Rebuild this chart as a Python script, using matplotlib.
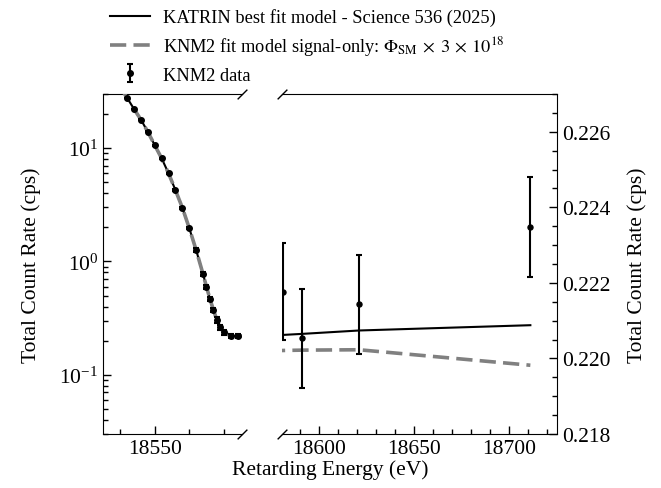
import matplotlib
matplotlib.use("Agg")
import matplotlib.pyplot as plt
from matplotlib.ticker import MultipleLocator, LogLocator, NullFormatter, FormatStrFormatter
from matplotlib.lines import Line2D

plt.rcParams['font.family'] = ['Liberation Serif', 'DejaVu Serif']
plt.rcParams['mathtext.fontset'] = 'stix'

# ---- data ----
energy = [18542, 18544, 18546, 18548, 18550, 18552, 18554, 18556, 18558, 18560,
          18562, 18564, 18565, 18566, 18567, 18568, 18569, 18570, 18572, 18574,
          18581, 18591, 18621, 18711]
rate = [27.7, 22.1, 17.8, 13.9, 10.6, 8.12, 5.99, 4.26, 2.98, 1.97,
        1.26, 0.773, 0.597, 0.468, 0.374, 0.305, 0.262, 0.236, 0.221, 0.221,
        0.22177, 0.22053, 0.22143, 0.22348]
rate_err = [0.20, 0.18, 0.16, 0.14, 0.12, 0.10, 0.09, 0.07, 0.06, 0.05,
            0.04, 0.03, 0.025, 0.02, 0.018, 0.016, 0.014, 0.012, 0.01, 0.01,
            0.00129, 0.00131, 0.00131, 0.00133]

model_energy = [18540, 18542, 18544, 18546, 18548, 18550, 18552, 18554, 18556, 18558,
                18560, 18562, 18564, 18565, 18566, 18567, 18568, 18569, 18570, 18572,
                18574, 18580, 18591, 18621, 18711]
katrin_model = [34.5, 27.7, 22.1, 17.8, 13.9, 10.6, 8.12, 5.99, 4.26, 2.98,
                1.97, 1.26, 0.773, 0.597, 0.468, 0.374, 0.305, 0.262, 0.236, 0.2208,
                0.2206, 0.22062, 0.22065, 0.22074, 0.22088]
signal_model = [34.5, 27.7, 22.1, 17.8, 13.9, 10.6, 8.12, 5.99, 4.26, 2.98,
                1.97, 1.26, 0.773, 0.597, 0.468, 0.374, 0.305, 0.262, 0.236, 0.2204,
                0.2202, 0.22021, 0.22022, 0.22023, 0.21982]

left_xlim = (18535, 18575.3)
right_xlim = (18580.5, 18725)
left_ylim = (0.03, 30)
right_ylim = (0.218, 0.227)

fig = plt.figure(figsize=(6.61, 4.89), dpi=100)
axL = fig.add_axes([103/661, 1-435/489, (242-103)/661, 340/489])
axR = fig.add_axes([282/661, 1-435/489, (557-282)/661, 340/489])

fs = 15.5
for ax, linear in ((axL, False), (axR, True)):
    ax.plot(model_energy, katrin_model, color='black', lw=1.5, zorder=2)
    ax.plot(model_energy, signal_model, color='gray', lw=2.6, ls=(0, (4.5, 2)), zorder=3)
    ax.errorbar(energy, rate, yerr=rate_err, fmt='o', color='black', ms=4 if not linear else 3.6,
                elinewidth=1.5, capsize=2.5, capthick=1.5, zorder=4)
    ax.tick_params(which='both', direction='in', labelsize=fs, top=False)
    ax.tick_params(which='major', length=6, width=1)
    ax.tick_params(which='minor', length=3.5, width=1)

axL.set_yscale('log')
axL.set_xlim(*left_xlim)
axL.set_ylim(*left_ylim)
axL.xaxis.set_major_locator(MultipleLocator(50))
axL.xaxis.set_minor_locator(MultipleLocator(10))
axL.yaxis.set_major_locator(LogLocator(base=10, numticks=10))
axL.yaxis.set_minor_locator(LogLocator(base=10, subs=range(2, 10), numticks=20))
axL.yaxis.set_minor_formatter(NullFormatter())
axL.spines['right'].set_visible(False)
axL.tick_params(right=False)
axL.set_ylabel('Total Count Rate (cps)', fontsize=fs, labelpad=13)

axR.set_xlim(*right_xlim)
axR.set_ylim(*right_ylim)
axR.xaxis.set_major_locator(MultipleLocator(50))
axR.xaxis.set_minor_locator(MultipleLocator(10))
axR.yaxis.set_major_locator(MultipleLocator(0.002))
axR.yaxis.set_minor_locator(MultipleLocator(0.0005))
axR.yaxis.set_major_formatter(FormatStrFormatter('%.3f'))
axR.spines['left'].set_visible(False)
axR.yaxis.tick_right()
axR.tick_params(left=False)
axR.yaxis.set_label_position('right')
axR.set_ylabel('Total Count Rate (cps)', fontsize=fs, labelpad=12)

# break marks
kw = dict(marker=[(-1, -1), (1, 1)], markersize=7, linestyle='none',
          color='k', mec='k', mew=1, clip_on=False)
axL.plot([1, 1], [0, 1], transform=axL.transAxes, **kw)
axR.plot([0, 0], [0, 1], transform=axR.transAxes, **kw)

fig.text(330/661, 1-470/489, 'Retarding Energy (eV)', ha='center', va='center', fontsize=fs)

handles = [
    Line2D([], [], color='black', lw=1.5),
    Line2D([], [], color='gray', lw=2.6, ls=(0, (4.5, 2))),
    axL.containers[0],
]
labels = ['KATRIN best fit model - Science 536 (2025)',
          r'KNM2 fit model signal-only: $\Phi_{\mathrm{SM}}\,\times\ 3\,\times\,10^{18}$',
          'KNM2 data']
fig.legend(handles, labels, loc='upper left', bbox_to_anchor=(101/661, 1.0),
           frameon=False, fontsize=13.2, handlelength=2.15, handletextpad=0.75,
           borderpad=0.0, labelspacing=0.45)

fig.savefig('out.png', dpi=100)
